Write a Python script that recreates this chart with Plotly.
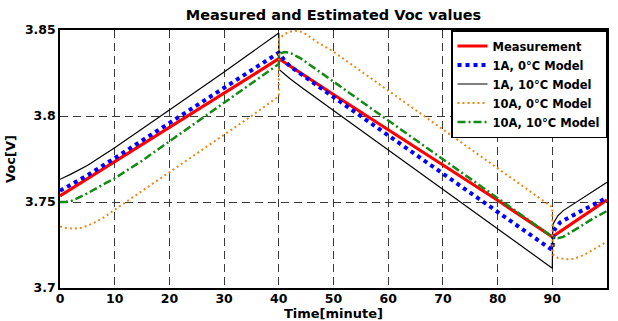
import plotly.graph_objects as go

# ---- data ----
t_meas = [0, 10, 20, 30, 40, 50, 60, 70, 80, 90, 95, 100]
v_meas = [3.7535, 3.7735, 3.7935, 3.8135, 3.8333, 3.8125, 3.792, 3.7715, 3.751, 3.7298, 3.7405, 3.7512]

t_1a0 = [0, 5, 10, 20, 30, 40, 41, 42, 50, 60, 70, 80, 90, 90.3, 91.5, 95, 100]
v_1a0 = [3.7565, 3.7655, 3.7755, 3.796, 3.8163, 3.8368, 3.8325, 3.829, 3.811, 3.7888, 3.7665,
         3.7443, 3.722, 3.7335, 3.7383, 3.7443, 3.7525]

t_1a10 = [0, 2, 5, 10, 20, 30, 40, 40.05, 42, 44, 50, 60, 70, 80, 90, 90.1, 91, 92, 94, 97, 100]
v_1a10 = [3.7632, 3.7662, 3.7712, 3.7815, 3.8035, 3.8256, 3.8483, 3.827, 3.8218, 3.817, 3.8032,
          3.7802, 3.7572, 3.7342, 3.7115, 3.737, 3.742, 3.745, 3.749, 3.755, 3.7615]

t_10a0 = [0, 1, 2.5, 4, 6, 8, 10, 13, 16, 20, 25, 30, 35, 40, 40.05, 41, 42, 43, 44, 45, 47, 50,
          60, 70, 80, 87, 90, 90.05, 91, 92.5, 94, 96, 98, 100]
v_10a0 = [3.7357, 3.735, 3.7345, 3.735, 3.7375, 3.741, 3.7455, 3.752, 3.7585, 3.7672, 3.778,
          3.789, 3.8, 3.8115, 3.845, 3.8475, 3.849, 3.8496, 3.849, 3.8475, 3.843, 3.8374,
          3.8148, 3.7922, 3.7697, 3.7537, 3.747, 3.7195, 3.7175, 3.7167, 3.717, 3.7195, 3.7235, 3.727]

t_10a10 = [0, 1, 2, 3, 5, 7.5, 10, 15, 20, 30, 40, 40.05, 41, 42, 44, 50, 60, 70, 80, 85, 88,
           90, 91, 92, 95, 97.5, 100]
v_10a10 = [3.75, 3.75, 3.7505, 3.752, 3.755, 3.7595, 3.7638, 3.774, 3.7852, 3.8078, 3.8302,
           3.8362, 3.8372, 3.8368, 3.8335, 3.82, 3.7975, 3.775, 3.7525, 3.7412, 3.7345, 3.7297,
           3.729, 3.7297, 3.7355, 3.7405, 3.7448]

x_ticks = [0, 10, 20, 30, 40, 50, 60, 70, 80, 90, 100]
y_ticks = [3.7, 3.75, 3.8, 3.85]
y_tick_labels = ["3.7", "3.75", "3.8", "3.85"]

FONT = "DejaVu Sans, Verdana, sans-serif"

fig = go.Figure()
fig.add_trace(go.Scatter(x=t_meas, y=v_meas, mode="lines", name="Measurement",
                         line=dict(color="#ff0000", width=3.2)))
fig.add_trace(go.Scatter(x=t_1a0, y=v_1a0, mode="lines", name="1A, 0°C Model",
                         line=dict(color="#0000ff", width=4, dash="4px,4px")))
fig.add_trace(go.Scatter(x=t_1a10, y=v_1a10, mode="lines", name="1A, 10°C Model",
                         line=dict(color="#000000", width=1.2)))
fig.add_trace(go.Scatter(x=t_10a0, y=v_10a0, mode="lines", name="10A, 0°C Model",
                         line=dict(color="#e8891c", width=2, dash="2px,3px")))
fig.add_trace(go.Scatter(x=t_10a10, y=v_10a10, mode="lines", name="10A, 10°C Model",
                         line=dict(color="#138a13", width=2.5, dash="8px,3px,2px,3px")))

axis_common = dict(
    showline=True, linecolor="black", linewidth=1.5, mirror=True,
    showgrid=True, gridcolor="#3a3a3a", gridwidth=1, griddash="8px,5px",
    zeroline=False, ticks="", automargin=False,
    tickfont=dict(family=FONT, size=12.5, color="black", weight="bold"),
)

fig.update_layout(
    width=618, height=321,
    margin=dict(l=60, r=11, t=30, b=33),
    paper_bgcolor="white", plot_bgcolor="white",
    title=dict(text="Measured and Estimated Voc values", x=0.5, xanchor="center",
               xref="paper", y=0.955, yref="container", yanchor="middle",
               font=dict(family=FONT, size=14.5, color="black", weight="bold")),
    xaxis=dict(range=[0, 100], tickvals=x_ticks, ticklabelstandoff=-2,
               title=dict(text="Time[minute]", standoff=4,
                          font=dict(family=FONT, size=13, color="black", weight="bold")),
               **axis_common),
    yaxis=dict(range=[3.7, 3.85], tickvals=y_ticks, ticktext=y_tick_labels,
               title=dict(text="Voc[V]", standoff=6,
                          font=dict(family=FONT, size=13, color="black", weight="bold")),
               **axis_common),
    legend=dict(x=1, y=1, xanchor="right", yanchor="top",
                bgcolor="white", bordercolor="black", borderwidth=1.5,
                font=dict(family=FONT, size=11.5, color="black", weight="bold"),
                tracegroupgap=0, itemwidth=30),
    showlegend=True,
)

fig.write_html("out.html", config={"displayModeBar": False},
               post_script="document.body.style.margin='0';document.body.style.padding='0';")
